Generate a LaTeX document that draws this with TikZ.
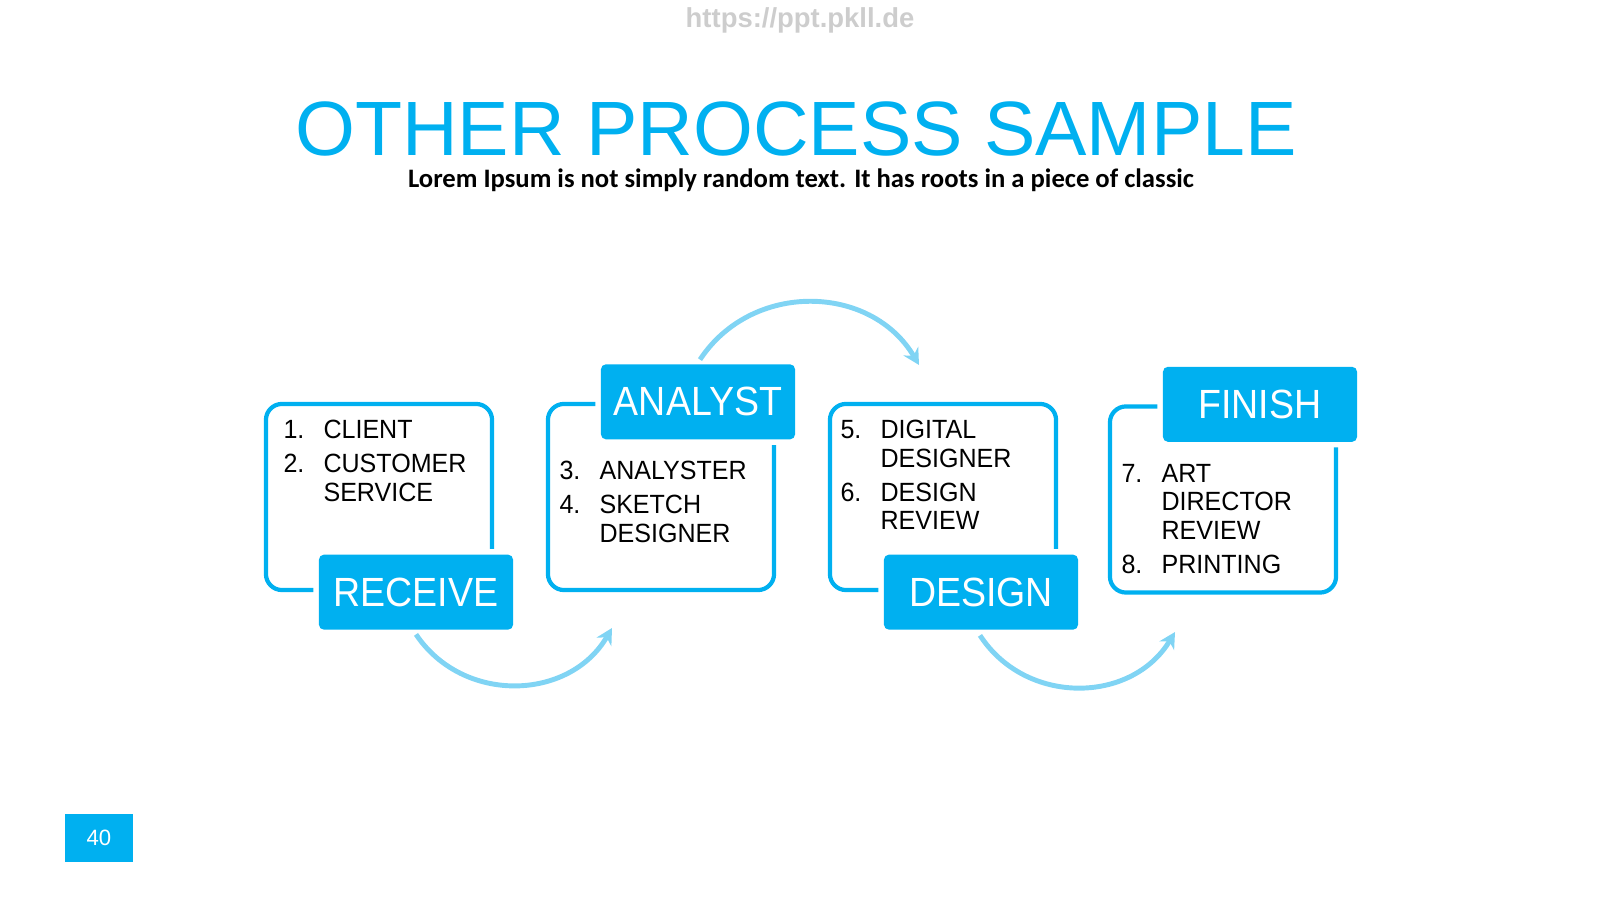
\documentclass[tikz,border=0pt]{standalone}
\usepackage{fontspec}
\setmainfont{Liberation Sans}
\newfontfamily\listfont[FakeStretch=0.95]{Liberation Sans}
\newfontfamily\tagfont[FakeStretch=0.92]{Liberation Sans}
\newfontfamily\leadfont{Carlito}
\usepackage{tikz}
\usetikzlibrary{arrows.meta,positioning,calc}
\definecolor{SlideBlue}{HTML}{00B0F0}
\definecolor{ArcBlue}{HTML}{80D4F4}
\definecolor{MarkGray}{HTML}{CDCDCD}

\begin{document}
\begin{tikzpicture}[x=0.01cm,y=0.01cm,
    stage/.style={draw=SlideBlue,line width=1.2pt,rounded corners=1.6mm,minimum width=2.26cm,minimum height=1.86cm,inner sep=0pt},
    tag/.style={fill=SlideBlue,rounded corners=0.5mm,minimum width=1.94cm,minimum height=0.75cm,inner sep=0pt,text=white,
      font=\tagfont\fontsize{11.6}{12}\selectfont,preaction={draw=white,line width=1.1mm}},
    steps/.style={anchor=base west,inner sep=0pt,font=\listfont\fontsize{7.5}{8.15}\selectfont},
    flow/.style={draw=ArcBlue,line width=1.4pt,-{Stealth[length=1.6mm,width=1.7mm]}}]
        \useasboundingbox (0,0) rectangle (1600,900);
        \node[anchor=base,text=MarkGray,font=\bfseries\fontsize{7.8}{9}\selectfont] (mark) at (800,872) {https://ppt.pkll.de};
        \node[anchor=base,text=SlideBlue,font=\fontsize{21.9}{24}\selectfont] (title) at (796,744) {OTHER PROCESS SAMPLE};
        \node[anchor=base,font=\leadfont\bfseries\fontsize{7.58}{9}\selectfont] (lead) at (801,712) {Lorem Ipsum is not simply random text. It has roots in a piece of classic};
        \node[stage] (receivebox) at (379,403) {};
        \node[stage] (analystbox) at (661,403) {};
        \node[stage] (designbox) at (943,403) {};
        \node[stage] (finishbox) at (1223,400.5) {};
        \node[tag] (receive) at ($(receivebox.south)+(37,0)$) {RECEIVE};
        \node[tag] (analyst) at ($(analystbox.north)+(37,0)$) {ANALYST};
        \node[tag] (design) at ($(designbox.south)+(38,0)$) {DESIGN};
        \node[tag] (finish) at ($(finishbox.north)+(37,0)$) {FINISH};
        \node[steps] (receivelist) at ($(receivebox.north west)+(19,-37)$) {\begin{tabular}[t]{@{}p{4mm}@{}l@{}}1. & CLIENT\\[0.5mm] 2. & CUSTOMER\\ & SERVICE\end{tabular}};
        \node[steps] (analystlist) at ($(analystbox.north west)+(13,-78)$) {\begin{tabular}[t]{@{}p{4mm}@{}l@{}}3. & ANALYSTER\\[0.5mm] 4. & SKETCH\\ & DESIGNER\end{tabular}};
        \node[steps] (designlist) at ($(designbox.north west)+(12,-37)$) {\begin{tabular}[t]{@{}p{4mm}@{}l@{}}5. & DIGITAL\\ & DESIGNER\\[0.5mm] 6. & DESIGN\\ & REVIEW\end{tabular}};
        \node[steps] (finishlist) at ($(finishbox.north west)+(13,-78)$) {\begin{tabular}[t]{@{}p{4mm}@{}l@{}}7. & ART\\ & DIRECTOR\\ & REVIEW\\[0.5mm] 8. & PRINTING\end{tabular}};
        \coordinate (receiveout) at ($(receive.south)+(0,-4)$);
        \coordinate (analystin) at (612,272);
        \coordinate (analystout) at ($(analyst.north)+(2,4)$);
        \coordinate (designin) at (919,535);
        \coordinate (designout) at ($(design.south)+(-1,-5)$);
        \coordinate (finishin) at (1175,268);
        \draw[flow] (receiveout) to[bend right=58,looseness=1.1] (analystin);
        \draw[flow] (analystout) to[bend left=58,looseness=1.1] (designin);
        \draw[flow] (designout) to[bend right=58,looseness=1.1] (finishin);
        \node[fill=SlideBlue,minimum width=0.68cm,minimum height=0.48cm,inner sep=0pt,text=white,font=\fontsize{6.3}{7}\selectfont] (page) at (99,62) {40};
      \end{tikzpicture}
\end{document}
